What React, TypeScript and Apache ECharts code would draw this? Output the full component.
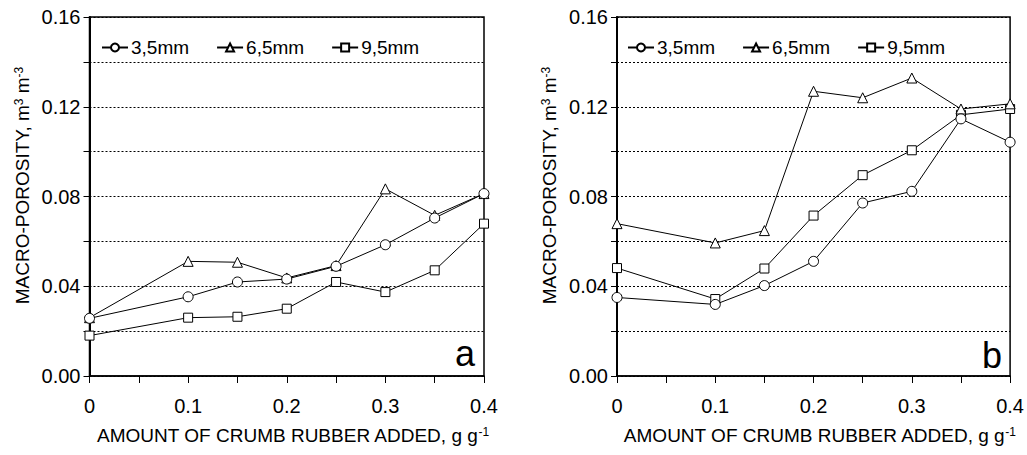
import React, { useEffect, useRef } from "react";
import * as echarts from "echarts";

const xValues = [0, 0.1, 0.15, 0.2, 0.25, 0.3, 0.35, 0.4];
const seriesNames = ["3,5mm", "6,5mm", "9,5mm"];

// panel a
const a35 = [0.0257, 0.0353, 0.0419, 0.0432, 0.0489, 0.0585, 0.0704, 0.0813];
const a65 = [0.026, 0.0511, 0.0507, 0.0437, 0.0492, 0.0834, 0.0716, 0.0813];
const a95 = [0.018, 0.026, 0.0264, 0.03, 0.0419, 0.0374, 0.0471, 0.0679];

// panel b
const b35 = [0.035, 0.0319, 0.0403, 0.0511, 0.0771, 0.0823, 0.1146, 0.1042];
const b65 = [0.0679, 0.0593, 0.0648, 0.1269, 0.124, 0.1328, 0.119, 0.1213];
const b95 = [0.0481, 0.0343, 0.0479, 0.0715, 0.0895, 0.1006, 0.1164, 0.119];

const panelLetters = ["a", "b"];
const yTitle = "{t|MACRO-POROSITY, m}{s|3}{t| m}{s|-3}";
const xTitle = "{t|AMOUNT OF CRUMB RUBBER ADDED, g g}{s|-1}";

const FONT = "Liberation Sans";

export default function App() {
  const ref = useRef<HTMLDivElement>(null);
  useEffect(() => {
    if (!ref.current) return;
    const chart = echarts.init(ref.current, undefined, { renderer: "svg" });
    const grids = [
      { left: 89.5, top: 17, width: 394.5, height: 359 },
      { left: 617, top: 17, width: 395, height: 359 },
    ];
    const richName = {
      t: { fontSize: 19, fontFamily: FONT, color: "#000" },
      s: { fontSize: 12, fontFamily: FONT, color: "#000", verticalAlign: "top" as const },
    };
    const xAxes = grids.map((_, i) => ({
      type: "value" as const,
      gridIndex: i,
      min: 0,
      max: 0.4,
      interval: 0.05,
      name: xTitle,
      nameLocation: "middle" as const,
      nameGap: 50,
      nameTextStyle: { rich: richName, padding: [0, 0, 0, 12] },
      axisLine: { show: true, lineStyle: { color: "#000", width: 1.5 } },
      axisTick: { show: true, length: 7, inside: false, lineStyle: { color: "#000", width: 1 } },
      splitLine: { show: false },
      axisLabel: {
        margin: 20,
        fontSize: 20,
        fontFamily: FONT,
        color: "#000",
        formatter: (v: number) => {
          const k = Math.round(v * 100);
          if (k % 10 !== 0) return "";
          return k === 0 ? "0" : (k / 100).toFixed(1);
        },
      },
    }));
    const yAxes = grids.map((_, i) => ({
      type: "value" as const,
      gridIndex: i,
      min: 0,
      max: 0.16,
      interval: 0.02,
      name: yTitle,
      nameLocation: "middle" as const,
      nameGap: 58,
      nameTextStyle: { rich: richName, padding: [0, 0, 0, 22] },
      axisLine: { show: true, lineStyle: { color: "#000", width: 2 } },
      axisTick: { show: true, length: 6, inside: false, lineStyle: { color: "#000", width: 1 } },
      splitLine: { show: true, lineStyle: { color: "#000", width: 1, type: [2, 2] as any } },
      axisLabel: {
        margin: 9,
        fontSize: 20,
        fontFamily: FONT,
        color: "#000",
        formatter: (v: number) => {
          const k = Math.round(v * 100);
          return k % 4 === 0 ? v.toFixed(2) : "";
        },
      },
    }));
    const mk = (name: string, data: number[], idx: number, symbol: string, size: number, z: number) => ({
      type: "line" as const,
      name,
      xAxisIndex: idx,
      yAxisIndex: idx,
      data: xValues.map((x, j) => [x, data[j]]),
      symbol,
      symbolSize: size,
      showAllSymbol: true,
      z,
      lineStyle: { color: "#000", width: 1 },
      itemStyle: { color: "#fff", borderColor: "#000", borderWidth: 1 },
    });
    const series = [
      mk(seriesNames[2], a95, 0, "rect", 9, 2),
      mk(seriesNames[1], a65, 0, "triangle", 10, 3),
      mk(seriesNames[0], a35, 0, "circle", 10, 4),
      mk(seriesNames[2], b95, 1, "rect", 9, 2),
      mk(seriesNames[1], b65, 1, "triangle", 10, 3),
      mk(seriesNames[0], b35, 1, "circle", 10, 4),
    ];
    const legendBase = {
      top: 33,
      orient: "horizontal" as const,
      itemWidth: 26,
      itemHeight: 10,
      itemGap: 27,
      selectedMode: false,
      data: seriesNames,
      textStyle: { fontSize: 19, fontFamily: FONT, color: "#000", padding: [0, 0, 0, -2] },
    };
    chart.setOption({
      animation: false,
      backgroundColor: "#fff",
      textStyle: { fontFamily: FONT },
      grid: grids.map((g) => ({ ...g, show: true, borderColor: "#000", borderWidth: 1.5, backgroundColor: "transparent" })),
      xAxis: xAxes,
      yAxis: yAxes,
      legend: [
        { ...legendBase, left: 96 },
        { ...legendBase, left: 622 },
      ],
      series,
      graphic: [
        {
          type: "text",
          x: 475,
          y: 353,
          style: { text: panelLetters[0], fontSize: 36, fontFamily: FONT, fill: "#000", align: "right", verticalAlign: "middle" },
        },
        {
          type: "text",
          x: 1002,
          y: 355,
          style: { text: panelLetters[1], fontSize: 36, fontFamily: FONT, fill: "#000", align: "right", verticalAlign: "middle" },
        },
      ],
    });
    return () => chart.dispose();
  }, []);
  return (
    <div
      ref={ref}
      style={{ position: "fixed", left: 0, top: 0, width: 1027, height: 455, background: "#fff" }}
    />
  );
}
